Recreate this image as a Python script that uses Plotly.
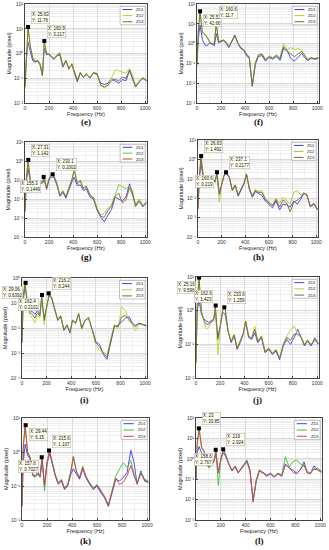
import math
import plotly.graph_objects as go

W, H = 329, 550

# ---------------- data ----------------
freq = [0, 10, 25, 45, 65, 85, 105, 125, 145, 160, 180, 200, 220, 240, 265, 290, 315, 340, 365, 390, 410,
        435, 460, 485, 510, 540, 570, 600, 630, 660, 690, 720, 750, 780, 810, 840, 870, 895, 920, 950, 980, 1010]
series_names = ["ZD1", "ZD2", "ZD3"]
x_tick_values = [0, 200, 400, 600, 800, 1000]

# (e)
zd1_e = [0.05, 0.5, 2.8, 1.26, 0.5, 0.45, 0.5, 0.35, 0.13, 1.6, 0.89, 1.0, 0.71, 0.63, 0.79, 0.89, 0.28, 0.5, 0.25, 0.35, 0.18,
         0.071, 0.16, 0.11, 0.14, 0.11, 0.16, 0.14, 0.063, 0.056, 0.063, 0.1, 0.079, 0.063, 0.089, 0.079, 0.2, 0.089, 0.045, 0.071, 0.1, 0.079]
zd2_e = [0.04, 0.79, 11.76, 2.0, 0.71, 0.5, 0.56, 0.4, 0.14, 3.217, 1.1, 1.0, 0.79, 0.63, 0.89, 1.1, 0.32, 0.56, 0.22, 0.4, 0.2,
         0.089, 0.18, 0.11, 0.16, 0.1, 0.18, 0.16, 0.05, 0.04, 0.05, 0.1, 0.22, 0.2, 0.18, 0.16, 0.25, 0.13, 0.05, 0.079, 0.11, 0.089]
zd3_e = [0.045, 0.71, 11.2, 1.8, 0.63, 0.45, 0.52, 0.38, 0.13, 3.1, 1.0, 0.89, 0.76, 0.56, 0.83, 1.0, 0.3, 0.52, 0.24, 0.38, 0.19,
         0.079, 0.17, 0.105, 0.15, 0.1, 0.17, 0.15, 0.052, 0.045, 0.052, 0.079, 0.089, 0.079, 0.11, 0.1, 0.22, 0.1, 0.045, 0.071, 0.1, 0.079]
tips_e_x = [25.63, 160.9]
tips_e_y = [11.76, 3.217]
yexp_e = [-2, -1, 0, 1, 2]

# (f)
zd1_f = [0.1, 1.6, 8.7, 1.6, 0.89, 0.79, 1.1, 0.89, 0.79, 3.2, 1.1, 1.26, 1.4, 1.1, 0.63, 1.26, 2.5, 1.0, 0.56, 0.45, 0.25,
         0.18, 0.007, 0.089, 0.22, 0.25, 0.13, 0.2, 0.16, 0.22, 0.14, 0.56, 0.45, 0.18, 0.13, 0.2, 0.32, 0.2, 0.14, 0.18, 0.16, 0.18]
zd2_f = [0.079, 4.0, 42.66, 4.0, 3.2, 2.2, 1.26, 1.0, 1.1, 11.7, 1.26, 1.4, 1.6, 1.26, 0.71, 1.4, 2.8, 1.1, 0.63, 0.5, 0.32,
         0.22, 0.008, 0.11, 0.28, 0.32, 0.16, 0.25, 0.2, 0.28, 0.2, 1.0, 0.5, 0.63, 0.5, 0.56, 0.5, 0.28, 0.16, 0.2, 0.18, 0.2]
zd3_f = [0.09, 3.5, 40.0, 3.5, 2.8, 2.0, 1.2, 0.95, 1.0, 11.2, 1.2, 1.3, 1.5, 1.2, 0.68, 1.35, 2.7, 1.05, 0.6, 0.48, 0.3,
         0.2, 0.0075, 0.1, 0.25, 0.3, 0.15, 0.22, 0.18, 0.25, 0.17, 0.7, 0.4, 0.3, 0.22, 0.3, 0.4, 0.25, 0.15, 0.19, 0.17, 0.19]
tips_f_x = [25.51, 160.6]
tips_f_y = [42.66, 11.7]
yexp_f = [-3, -2, -1, 0, 1, 2]

# (g)
zd1_g = [0.0025, 0.063, 0.4, 0.079, 0.05, 0.063, 0.05, 0.063, 0.071, 0.1, 0.032, 0.1, 0.14, 0.14, 0.056, 0.014, 0.022, 0.011, 0.032, 0.079, 0.14,
         0.05, 0.056, 0.028, 0.035, 0.0126, 0.01, 0.0025, 0.0011, 0.00063, 0.0014, 0.0028, 0.0126, 0.01, 0.0079, 0.0126, 0.063, 0.02, 0.0045, 0.0079, 0.004, 0.0063]
zd2_g = [0.002, 0.1, 1.142, 0.1, 0.063, 0.079, 0.063, 0.079, 0.089, 0.1449, 0.04, 0.126, 0.2002, 0.178, 0.071, 0.016, 0.028, 0.014, 0.04, 0.112, 0.4,
         0.071, 0.1, 0.04, 0.05, 0.0178, 0.0126, 0.0032, 0.0014, 0.0018, 0.0032, 0.005, 0.016, 0.056, 0.045, 0.035, 0.05, 0.025, 0.005, 0.01, 0.0045, 0.0071]
zd3_g = [0.0022, 0.09, 1.05, 0.09, 0.056, 0.071, 0.056, 0.071, 0.08, 0.135, 0.036, 0.115, 0.19, 0.16, 0.063, 0.015, 0.025, 0.0125, 0.036, 0.1, 0.32,
         0.063, 0.089, 0.035, 0.045, 0.016, 0.011, 0.0028, 0.0012, 0.0011, 0.0025, 0.004, 0.014, 0.02, 0.0063, 0.0089, 0.04, 0.016, 0.004, 0.0079, 0.004, 0.0063]
tips_g_x = [27.31, 155.3, 230.1]
tips_g_y = [1.142, 0.1449, 0.2002]
yexp_g = [-4, -3, -2, -1, 0, 1]

# (h)
zd1_h = [0.0032, 0.079, 0.63, 0.11, 0.1, 0.089, 0.1, 0.089, 0.079, 0.178, 0.0178, 0.05, 0.14, 0.178, 0.112, 0.025, 0.045, 0.0126, 0.028, 0.056, 0.178,
         0.028, 0.0112, 0.022, 0.0178, 0.014, 0.0071, 0.005, 0.0032, 0.0071, 0.0025, 0.005, 0.0045, 0.0035, 0.0071, 0.005, 0.0089, 0.0178, 0.016, 0.0035, 0.005, 0.0025]
zd2_h = [0.0025, 0.1, 1.492, 0.14, 0.112, 0.1, 0.112, 0.1, 0.063, 0.219, 0.0063, 0.05, 0.158, 0.2, 0.126, 0.028, 0.05, 0.0158, 0.032, 0.063, 0.178,
         0.032, 0.014, 0.028, 0.022, 0.025, 0.01, 0.0071, 0.0045, 0.01, 0.0056, 0.0112, 0.0071, 0.005, 0.02, 0.025, 0.014, 0.02, 0.014, 0.004, 0.0056, 0.0028]
zd3_h = [0.0028, 0.09, 1.4, 0.125, 0.105, 0.095, 0.105, 0.095, 0.07, 0.2, 0.0158, 0.048, 0.15, 0.2177, 0.12, 0.026, 0.048, 0.014, 0.03, 0.06, 0.17,
         0.03, 0.0125, 0.025, 0.02, 0.02, 0.0085, 0.006, 0.004, 0.0085, 0.0035, 0.008, 0.0056, 0.002, 0.0063, 0.0079, 0.0112, 0.0178, 0.015, 0.0038, 0.0053, 0.0027]
tips_h_x = [26.63, 160.6, 237.1]
tips_h_y = [1.492, 0.219, 0.2177]
yexp_h = [-4, -3, -2, -1, 0, 1]

# (i)
zd1_i = [0.0028, 0.126, 0.45, 0.1, 0.05, 0.045, 0.035, 0.05, 0.035, 0.14, 0.025, 0.079, 0.19, 0.158, 0.056, 0.02, 0.028, 0.0079, 0.0126, 0.0063, 0.02,
         0.0158, 0.035, 0.01, 0.02, 0.025, 0.0089, 0.0028, 0.0022, 0.00089, 0.00056, 0.0025, 0.0112, 0.0126, 0.0178, 0.025, 0.028, 0.0158, 0.0126, 0.0158, 0.014, 0.0126]
zd2_i = [0.0025, 0.25, 0.6392, 0.079, 0.032, 0.025, 0.0158, 0.032, 0.025, 0.2101, 0.0132, 0.063, 0.244, 0.178, 0.063, 0.022, 0.032, 0.0089, 0.014, 0.0071, 0.022,
         0.0158, 0.04, 0.0089, 0.0178, 0.028, 0.0079, 0.002, 0.00126, 0.0011, 0.00089, 0.0035, 0.014, 0.0089, 0.071, 0.05, 0.0178, 0.014, 0.0079, 0.014, 0.014, 0.0112]
zd3_i = [0.0026, 0.2, 0.6, 0.089, 0.04, 0.035, 0.025, 0.04, 0.03, 0.2, 0.02, 0.07, 0.23, 0.17, 0.06, 0.021, 0.03, 0.0085, 0.013, 0.0068, 0.021,
         0.015, 0.038, 0.0095, 0.019, 0.026, 0.0085, 0.0025, 0.0018, 0.001, 0.0007, 0.003, 0.0126, 0.0112, 0.028, 0.032, 0.022, 0.015, 0.011, 0.015, 0.0135, 0.012]
tips_i_x = [29.06, 162.4, 216.2]
tips_i_y = [0.6392, 0.2101, 0.244]
yexp_i = [-4, -3, -2, -1, 0]

# (j)
zd1_j = [0.032, 1.0, 2.0, 0.79, 0.56, 0.5, 0.45, 0.5, 0.56, 0.89, 0.158, 0.35, 0.89, 0.79, 0.25, 0.112, 0.178, 0.071, 0.112, 0.2, 0.45,
         0.158, 0.14, 0.22, 0.112, 0.158, 0.056, 0.071, 0.05, 0.063, 0.035, 0.089, 0.14, 0.1, 0.158, 0.28, 0.158, 0.089, 0.126, 0.089, 0.158, 0.1]
zd2_j = [0.025, 2.0, 9.596, 1.0, 0.5, 0.28, 0.32, 0.45, 0.5, 1.423, 0.05, 0.32, 1.12, 1.259, 0.25, 0.126, 0.2, 0.079, 0.126, 0.22, 0.5,
         0.178, 0.158, 0.35, 0.126, 0.178, 0.063, 0.079, 0.056, 0.071, 0.04, 0.1, 0.178, 0.27, 0.35, 0.2, 0.158, 0.1, 0.14, 0.1, 0.126, 0.112]
zd3_j = [0.028, 1.6, 9.2, 0.9, 0.52, 0.4, 0.4, 0.47, 0.52, 1.35, 0.14, 0.34, 1.0, 1.2, 0.24, 0.12, 0.19, 0.075, 0.12, 0.21, 0.48,
         0.17, 0.15, 0.28, 0.12, 0.17, 0.06, 0.075, 0.053, 0.068, 0.038, 0.095, 0.16, 0.13, 0.2, 0.2, 0.16, 0.095, 0.13, 0.095, 0.14, 0.105]
tips_j_x = [25.16, 162.6, 233.6]
tips_j_y = [9.596, 1.423, 1.259]
yexp_j = [-2, -1, 0, 1]

# (k)
zd1_k = [0.028, 0.5, 1.7, 0.79, 0.63, 0.22, 0.2, 0.25, 0.2, 0.56, 0.112, 0.45, 0.89, 0.5, 0.2, 0.112, 0.14, 0.079, 0.1, 0.22, 0.32,
         0.22, 0.158, 0.32, 0.178, 0.112, 0.079, 0.1, 0.063, 0.045, 0.025, 0.063, 0.158, 0.14, 0.178, 0.25, 1.12, 0.5, 0.112, 0.28, 0.14, 0.126]
zd2_k = [0.025, 1.58, 6.15, 1.0, 0.71, 0.2, 0.178, 0.22, 0.178, 0.7027, 0.071, 0.5, 1.107, 0.56, 0.22, 0.126, 0.158, 0.089, 0.112, 0.28, 0.76,
         0.28, 0.178, 0.38, 0.2, 0.126, 0.089, 0.112, 0.071, 0.05, 0.028, 0.079, 0.2, 0.32, 0.48, 0.35, 0.56, 0.22, 0.126, 0.25, 0.158, 0.14]
zd3_k = [0.026, 1.3, 5.9, 0.95, 0.68, 0.21, 0.19, 0.23, 0.19, 0.67, 0.1, 0.48, 1.05, 0.53, 0.21, 0.12, 0.15, 0.085, 0.105, 0.25, 0.7,
         0.26, 0.17, 0.35, 0.19, 0.12, 0.085, 0.105, 0.068, 0.048, 0.027, 0.07, 0.17, 0.11, 0.13, 0.2, 0.4, 0.2, 0.12, 0.23, 0.15, 0.13]
tips_k_x = [29.44, 157.6, 215.6]
tips_k_y = [6.15, 0.7027, 1.107]
yexp_k = [-2, -1, 0, 1]

# (l)
zd1_l = [0.11, 2.0, 4.0, 2.0, 1.58, 0.63, 0.45, 0.63, 0.79, 1.58, 0.22, 0.89, 2.0, 1.26, 0.5, 0.25, 0.4, 0.2, 0.32, 0.5, 0.71,
         0.25, 0.0079, 0.079, 0.25, 0.2, 0.14, 0.178, 0.126, 0.178, 0.14, 0.56, 0.35, 0.28, 0.2, 0.28, 0.71, 0.22, 0.178, 0.45, 0.28, 0.22]
zd2_l = [0.1, 6.3, 30.85, 4.0, 2.5, 0.5, 0.35, 0.5, 0.71, 2.767, 0.05, 1.0, 2.924, 1.58, 0.56, 0.28, 0.45, 0.22, 0.35, 0.56, 0.89,
         0.28, 0.0089, 0.089, 0.28, 0.22, 0.158, 0.2, 0.14, 0.2, 0.158, 1.26, 0.4, 0.71, 0.89, 0.56, 0.5, 0.25, 0.2, 0.32, 0.35, 0.25]
zd3_l = [0.105, 5.0, 29.5, 3.5, 2.2, 0.56, 0.4, 0.56, 0.75, 2.6, 0.2, 0.95, 2.8, 1.5, 0.53, 0.27, 0.43, 0.21, 0.34, 0.53, 0.8,
         0.27, 0.0083, 0.085, 0.27, 0.21, 0.15, 0.19, 0.13, 0.19, 0.15, 0.5, 0.38, 0.22, 0.18, 0.3, 0.5, 0.2, 0.19, 0.3, 0.3, 0.23]
tips_l_x = [23, 158.6, 219]
tips_l_y = [30.85, 2.767, 2.924]
yexp_l = [-3, -2, -1, 0, 1, 2]

# ---------------- layout / style ----------------
panels = [
    dict(label="(e)", zd=[zd1_e, zd2_e, zd3_e], tx=tips_e_x, ty=tips_e_y, yexp=yexp_e,
         box=(25, 147, 4, 103), colors=["#3d3df0", "#c2c832", "#76702c"], sides=["ra", "ra"], ly=122),
    dict(label="(f)", zd=[zd1_f, zd2_f, zd3_f], tx=tips_f_x, ty=tips_f_y, yexp=yexp_f,
         box=(197, 319, 4, 103), colors=["#3d3df0", "#a6d23a", "#6b6b2f"], sides=["rb", "ra"], ly=122),
    dict(label="(g)", zd=[zd1_g, zd2_g, zd3_g], tx=tips_g_x, ty=tips_g_y, yexp=yexp_g,
         box=(25, 147, 142, 237), colors=["#3d3df0", "#6ccc3a", "#a0622d"], sides=["ra", "lb", "ra"], ly=257),
    dict(label="(h)", zd=[zd1_h, zd2_h, zd3_h], tx=tips_h_x, ty=tips_h_y, yexp=yexp_h,
         box=(198, 318, 140, 237), colors=["#3d3df0", "#9ccc34", "#8b5a2b"], sides=["ra", "lb", "ra"], ly=257),
    dict(label="(i)", zd=[zd1_i, zd2_i, zd3_i], tx=tips_i_x, ty=tips_i_y, yexp=yexp_i,
         box=(22, 147, 278, 378), colors=["#4a3df0", "#cfd033", "#5f7a2b"], sides=["lb", "lb", "ra"], ly=400),
    dict(label="(j)", zd=[zd1_j, zd2_j, zd3_j], tx=tips_j_x, ty=tips_j_y, yexp=yexp_j,
         box=(196, 319, 277, 378), colors=["#4a3df0", "#b4d032", "#7d6a33"], sides=["lb", "la", "ra"], ly=400),
    dict(label="(k)", zd=[zd1_k, zd2_k, zd3_k], tx=tips_k_x, ty=tips_k_y, yexp=yexp_k,
         box=(22, 149, 418, 520), colors=["#3d3df0", "#3cbf3c", "#d23c3c"], sides=["rb", "lb", "ra"], ly=541),
    dict(label="(l)", zd=[zd1_l, zd2_l, zd3_l], tx=tips_l_x, ty=tips_l_y, yexp=yexp_l,
         box=(196, 322, 418, 520), colors=["#3d3df0", "#3cbf3c", "#d84444"], sides=["ra", "lb", "ra"], ly=541),
]

SUP = str.maketrans("-0123456789", "⁻⁰¹²³⁴⁵⁶⁷⁸⁹")

fig = go.Figure()
layout = dict(width=W, height=H, margin=dict(l=0, r=0, t=0, b=0),
              paper_bgcolor="white", plot_bgcolor="white", showlegend=False,
              font=dict(family="Liberation Sans, Arial, sans-serif", size=5, color="#222"))
annotations = []
shapes = []

for k, p in enumerate(panels, start=1):
    sfx = "" if k == 1 else str(k)
    xa, ya = "x" + sfx, "y" + sfx
    x0, x1, yt, yb = p["box"]
    for name, vals, col in zip(series_names, p["zd"], p["colors"]):
        fig.add_trace(go.Scatter(x=freq, y=vals, mode="lines", name=name,
                                 line=dict(color=col, width=0.9), xaxis=xa, yaxis=ya))
    fig.add_trace(go.Scatter(x=p["tx"], y=p["ty"], mode="markers", name="datatip",
                             marker=dict(symbol="square", size=4, color="black"), xaxis=xa, yaxis=ya))
    ye = p["yexp"]
    layout["xaxis" + sfx] = dict(
        domain=[x0 / W, x1 / W], anchor=ya, range=[0, 1015],
        tickvals=x_tick_values, tickfont=dict(size=5, color="#333"),
        showline=True, mirror=True, linecolor="#444", linewidth=0.6,
        ticks="inside", ticklen=2, tickcolor="#444",
        showgrid=True, gridcolor="#dcdcdc", gridwidth=0.5, zeroline=False,
        minor=dict(showgrid=True, dtick=100, gridcolor="#f0f0f0", gridwidth=0.5),
        title=dict(text="Frequency (Hz)", font=dict(size=5.5, color="#222"), standoff=1),
        automargin=False)
    layout["yaxis" + sfx] = dict(
        domain=[1 - yb / H, 1 - yt / H], anchor=xa, type="log", range=[ye[0], ye[-1]],
        tickvals=[10 ** e for e in ye], ticktext=["10" + str(e).translate(SUP) for e in ye],
        tickfont=dict(size=5, color="#333"),
        showline=True, mirror=True, linecolor="#444", linewidth=0.6,
        ticks="inside", ticklen=2, tickcolor="#444",
        showgrid=True, gridcolor="#d8d8d8", gridwidth=0.5, zeroline=False,
        minor=dict(showgrid=True, dtick="D1", gridcolor="#efefef", gridwidth=0.5),
        title=dict(text="Magnitude (pixel)", font=dict(size=5.5, color="#222"), standoff=2),
        automargin=False)

    # data tips
    for tx, ty, side in zip(p["tx"], p["ty"], p["sides"]):
        annotations.append(dict(
            x=tx, y=math.log10(ty), xref=xa, yref=ya, showarrow=False,
            text="X: %s<br>Y: %s" % (tx, ty), align="left",
            font=dict(size=4.5, color="#111"),
            bgcolor="#fffff0", bordercolor="#9a9a9a", borderwidth=0.4, borderpad=0.5,
            xanchor="left" if side[0] == "r" else "right",
            yanchor="bottom" if side[1] == "a" else "top",
            xshift=3 if side[0] == "r" else -3,
            yshift=3 if side[1] == "a" else -3))

    # legend box (top-right)
    dx, dy = xa + " domain", ya + " domain"
    lx0, lx1, ly0, ly1 = 0.78, 0.985, 0.79, 0.975
    shapes.append(dict(type="rect", xref=dx, yref=dy, x0=lx0, x1=lx1, y0=ly0, y1=ly1,
                       line=dict(color="#8a8a8a", width=0.5), fillcolor="white", layer="above"))
    for r, (name, col) in enumerate(zip(series_names, p["colors"])):
        yy = ly1 - (r + 0.5) * (ly1 - ly0) / 3
        shapes.append(dict(type="line", xref=dx, yref=dy, x0=lx0 + 0.02, x1=lx0 + 0.1, y0=yy, y1=yy,
                           line=dict(color=col, width=1), layer="above"))
        annotations.append(dict(x=lx0 + 0.115, y=yy, xref=dx, yref=dy, text=name, showarrow=False,
                                xanchor="left", yanchor="middle", font=dict(size=4, color="#222")))

    # panel label
    annotations.append(dict(x=(x0 + x1) / 2 / W, y=1 - p["ly"] / H, xref="paper", yref="paper",
                            text="<b>%s</b>" % p["label"], showarrow=False, xanchor="center", yanchor="middle",
                            font=dict(family="Liberation Serif, Times New Roman, serif", size=9, color="#111")))

layout["annotations"] = annotations
layout["shapes"] = shapes
fig.update_layout(**layout)
fig.write_html("out.html", config={"displayModeBar": False},
               post_script="document.body.style.margin='0';document.body.style.overflow='hidden';")
